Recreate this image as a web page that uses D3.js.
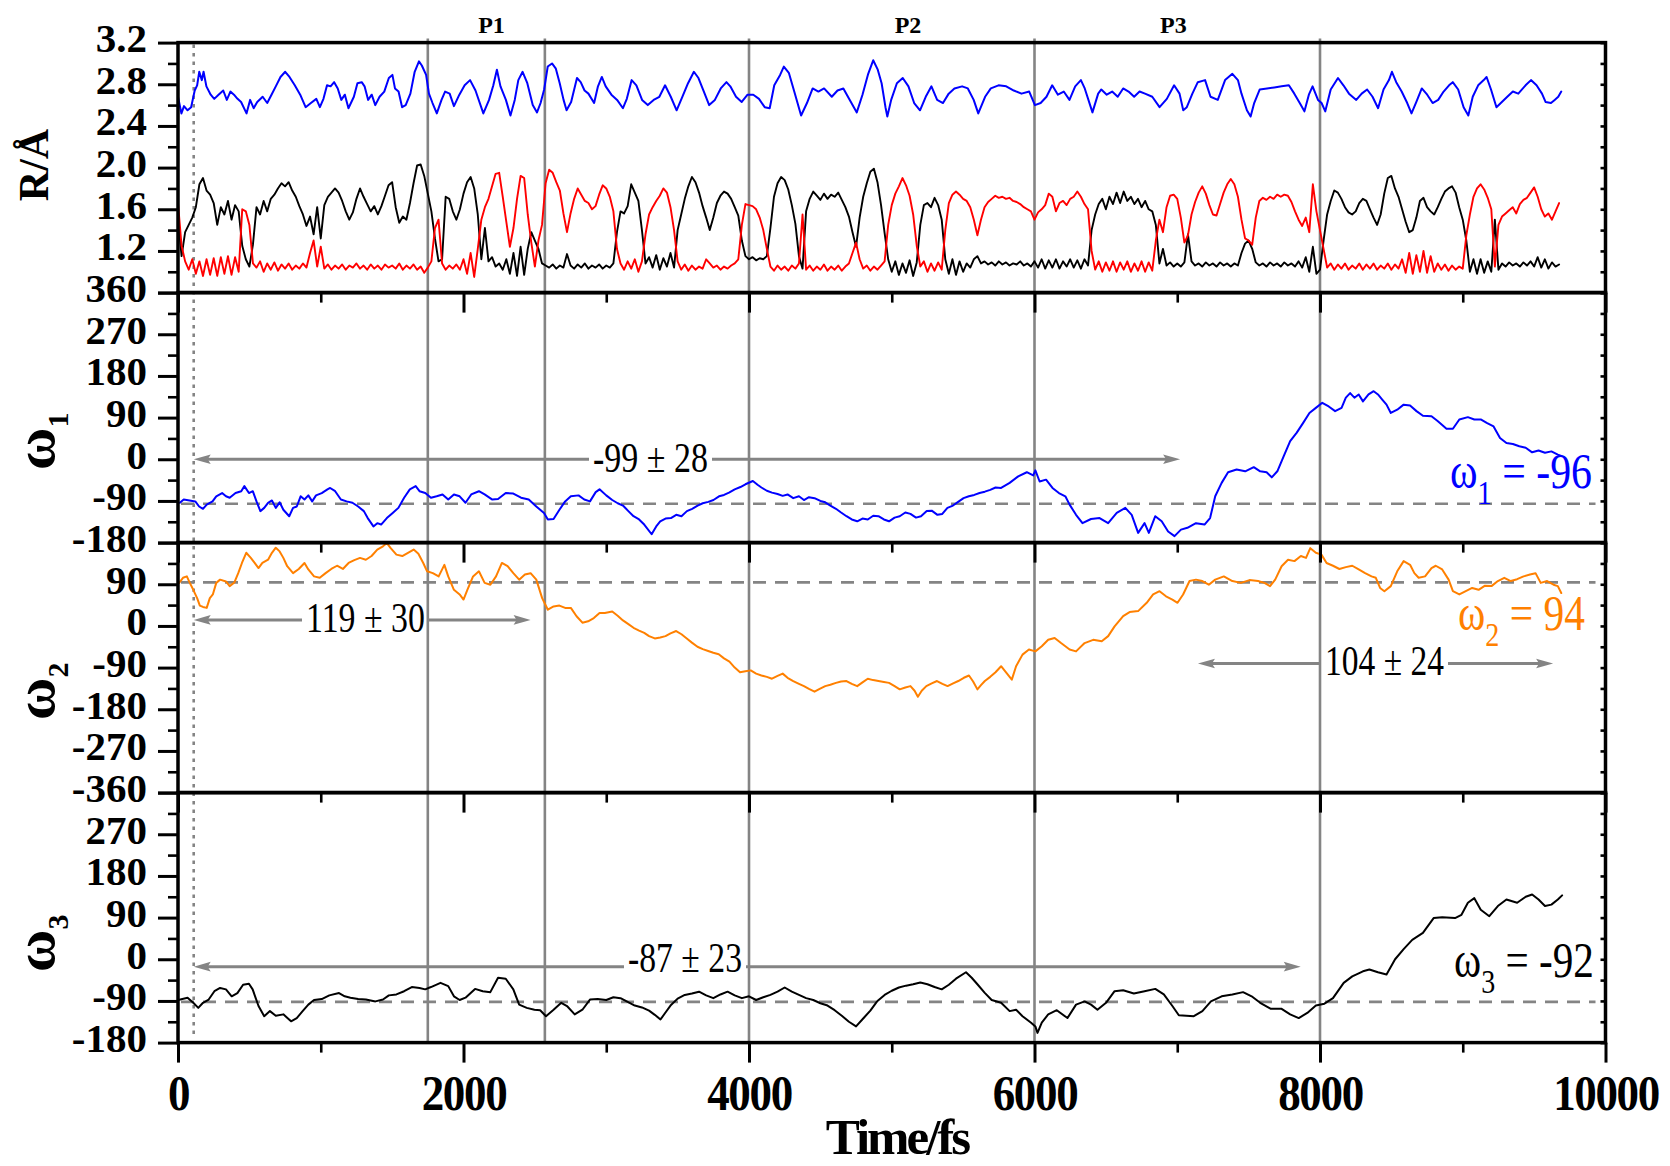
<!DOCTYPE html>
<html>
<head>
<meta charset="utf-8">
<script src="https://cdn.jsdelivr.net/npm/d3@7"></script>
<style>
  html, body { margin: 0; padding: 0; background: #fff; }
  svg { display: block; font-family: "Liberation Serif", "Times New Roman", Times, serif; }
</style>
</head>
<body>
<svg id="chart" width="1670" height="1166"></svg>
<script>
// ---------------------------------------------------------------------------
// Data
// ---------------------------------------------------------------------------
const timeDomain = [0, 10000];
const timeTicks = [0, 2000, 4000, 6000, 8000, 10000];
const timeMinorTicks = [1000, 3000, 5000, 7000, 9000];

const rDomain = [0.8, 3.2];
const rTicks = [0.8, 1.2, 1.6, 2.0, 2.4, 2.8, 3.2];
const rMinorTicks = [1.0, 1.4, 1.8, 2.2, 2.6, 3.0];

const omega1Domain = [-180, 360];
const omega1Ticks = [-180, -90, 0, 90, 180, 270, 360];
const omega1MinorTicks = [-135, -45, 45, 135, 225, 315];
const omega2Domain = [-360, 180];
const omega2Ticks = [-360, -270, -180, -90, 0, 90, 180];
const omega2MinorTicks = [-315, -225, -135, -45, 45, 135];
const omega3Domain = [-180, 360];
const omega3Ticks = [-180, -90, 0, 90, 180, 270, 360];
const omega3MinorTicks = [-135, -45, 45, 135, 225, 315];

// time (fs) of the marked frames and of the start of the averaging window
const markerTimes = [1750, 2570, 4000, 6000, 8000];
const startTime = 110;
const periodNames = ["P1", "P2", "P3"];
const periodTimes = [2196, 5114, 6973];

// reference dihedral angles (degrees)
const omegaRefs = [-96, 94, -92];

// averages over a window: [label, level (deg), from (fs), to (fs)]
const meanOmega1 = ["-99 ± 28", 0, 110, 7020];
const meanOmega2a = ["119 ± 30", 13, 110, 2470];
const meanOmega2b = ["104 ± 24", -81, 7145, 9633];
const meanOmega3 = ["-87 ± 23", -16, 110, 7865];

// distance traces sampled every rStep fs
const rStep = 25;
const rBlack = [
  1.50,1.15,1.38,1.45,1.52,1.62,1.84,1.90, 1.78,1.74,1.66,1.45,1.62,1.55,1.68,1.50,
  1.64,1.58,1.25,1.12,1.05,1.26,1.62,1.55, 1.68,1.58,1.70,1.74,1.80,1.85,1.82,1.86,
  1.78,1.72,1.63,1.55,1.44,1.53,1.36,1.62, 1.32,1.64,1.72,1.76,1.80,1.76,1.68,1.58,
  1.50,1.57,1.70,1.80,1.72,1.65,1.58,1.63, 1.55,1.63,1.73,1.83,1.86,1.62,1.47,1.53,
  1.50,1.66,1.85,2.02,2.03,1.92,1.75,1.58, 1.32,1.10,1.12,1.72,1.70,1.58,1.50,1.60,
  1.75,1.86,1.91,1.80,1.55,1.12,1.42,1.10, 1.14,1.05,1.08,1.02,1.12,0.98,1.18,0.96,
  1.24,0.97,1.22,1.38,1.30,1.22,1.08,1.06, 1.04,1.07,1.03,1.06,1.04,1.17,1.06,1.03,
  1.07,1.04,1.08,1.03,1.06,1.04,1.07,1.03, 1.06,1.04,1.08,1.38,1.58,1.56,1.63,1.84,
  1.76,1.68,1.40,1.08,1.14,1.04,1.16,1.02, 1.13,1.05,1.18,1.04,1.40,1.55,1.70,1.82,
  1.91,1.86,1.76,1.63,1.52,1.40,1.52,1.66, 1.73,1.77,1.75,1.70,1.62,1.54,1.30,1.15,
  1.12,1.14,1.11,1.13,1.12,1.15,1.42,1.72, 1.85,1.91,1.88,1.79,1.64,1.46,1.15,1.03,
  1.58,1.70,1.77,1.73,1.69,1.75,1.70,1.74, 1.72,1.76,1.69,1.62,1.53,1.38,1.24,1.52,
  1.72,1.85,1.96,1.99,1.86,1.64,1.37,1.12, 1.00,1.10,0.97,1.08,0.99,1.11,0.96,1.09,
  1.45,1.64,1.66,1.62,1.71,1.64,1.50,1.12, 0.98,1.12,0.97,1.10,1.00,1.08,1.04,1.12,
  1.15,1.08,1.10,1.07,1.09,1.06,1.10,1.07, 1.09,1.06,1.08,1.07,1.10,1.06,1.08,1.05,
  1.10,1.04,1.12,1.03,1.11,1.04,1.12,1.03, 1.10,1.05,1.12,1.04,1.11,1.03,1.12,1.06,
  1.40,1.55,1.65,1.70,1.60,1.72,1.65,1.76, 1.66,1.77,1.68,1.72,1.65,1.70,1.62,1.68,
  1.60,1.58,1.45,1.08,1.22,1.06,1.09,1.05, 1.08,1.05,1.09,1.36,1.10,1.06,1.08,1.05,
  1.09,1.06,1.08,1.05,1.09,1.06,1.08,1.05, 1.08,1.06,1.18,1.27,1.30,1.22,1.09,1.06,
  1.08,1.05,1.09,1.06,1.08,1.05,1.09,1.06, 1.08,1.05,1.10,1.04,1.14,1.00,1.24,0.98,
  1.02,1.30,1.55,1.68,1.78,1.76,1.70,1.62, 1.57,1.55,1.58,1.66,1.70,1.68,1.60,1.52,
  1.45,1.55,1.75,1.90,1.92,1.80,1.72,1.60, 1.48,1.38,1.40,1.52,1.68,1.71,1.62,1.58,
  1.55,1.62,1.70,1.77,1.80,1.82,1.76,1.62, 1.50,1.30,1.00,1.12,0.98,1.12,0.99,1.10,
  1.00,1.50,1.02,1.08,1.05,1.09,1.06,1.08, 1.05,1.09,1.06,1.10,1.05,1.14,1.04,1.12,
  1.03,1.09,1.05,1.07
];
const rRed = [
  1.66,1.25,1.10,1.02,1.12,0.98,1.10,0.96, 1.12,0.97,1.13,0.96,1.14,0.98,1.15,0.97,
  1.14,1.00,1.60,1.58,1.45,1.08,1.04,1.10, 1.00,1.08,1.02,1.09,1.01,1.07,1.03,1.08,
  1.02,1.06,1.03,1.08,1.04,1.18,1.30,1.05, 1.24,1.03,1.07,1.02,1.06,1.03,1.07,1.02,
  1.06,1.04,1.08,1.03,1.06,1.02,1.07,1.03, 1.06,1.02,1.07,1.04,1.06,1.03,1.08,1.02,
  1.06,1.03,1.07,1.02,1.05,0.99,1.04,1.10, 1.42,1.50,1.08,1.02,1.06,1.03,1.07,1.02,
  1.12,0.98,1.18,0.95,1.22,1.50,1.62,1.70, 1.82,1.94,1.95,1.72,1.48,1.24,1.42,1.70,
  1.92,1.90,1.55,1.28,1.05,1.30,1.45,1.85, 1.98,1.95,1.86,1.78,1.56,1.38,1.56,1.70,
  1.80,1.74,1.68,1.66,1.60,1.63,1.74,1.83, 1.80,1.72,1.58,1.22,1.08,1.02,1.10,1.03,
  1.12,1.00,1.10,1.36,1.55,1.62,1.68,1.73, 1.80,1.76,1.62,1.40,1.10,1.02,1.07,1.01,
  1.06,1.02,1.05,1.03,1.12,1.08,1.04,1.06, 1.02,1.05,1.03,1.06,1.08,1.12,1.45,1.65,
  1.64,1.63,1.60,1.52,1.40,1.22,1.05,1.01, 1.06,1.02,1.05,1.01,1.06,1.03,1.08,1.55,
  1.02,1.06,1.01,1.05,1.02,1.07,1.01,1.05, 1.02,1.06,1.01,1.05,1.08,1.18,1.28,1.12,
  1.03,1.06,1.01,1.05,1.02,1.06,1.10,1.45, 1.64,1.75,1.82,1.90,1.83,1.73,1.55,1.25,
  1.05,1.10,1.00,1.08,1.01,1.09,1.02,1.40, 1.66,1.74,1.77,1.74,1.70,1.68,1.62,1.50,
  1.35,1.50,1.62,1.67,1.70,1.73,1.71,1.72, 1.70,1.71,1.68,1.67,1.65,1.62,1.60,1.58,
  1.50,1.57,1.60,1.64,1.75,1.72,1.58,1.66, 1.68,1.64,1.70,1.72,1.77,1.72,1.65,1.60,
  1.20,1.02,1.10,1.00,1.09,1.01,1.10,1.00, 1.09,1.02,1.10,1.00,1.08,1.01,1.10,1.00,
  1.09,1.01,1.30,1.50,1.38,1.62,1.73,1.74, 1.70,1.52,1.28,1.35,1.55,1.67,1.76,1.82,
  1.75,1.64,1.55,1.54,1.65,1.76,1.84,1.89, 1.84,1.72,1.50,1.32,1.30,1.26,1.52,1.68,
  1.71,1.69,1.72,1.70,1.74,1.72,1.74,1.73, 1.67,1.58,1.50,1.44,1.52,1.38,1.84,1.58,
  1.40,1.22,1.04,1.08,1.02,1.07,1.03,1.08, 1.02,1.06,1.03,1.08,1.02,1.07,1.03,1.08,
  1.02,1.06,1.03,1.08,1.02,1.07,1.03,1.12, 0.99,1.18,0.98,1.16,1.00,1.20,0.99,1.15,
  1.00,1.08,1.02,1.07,1.01,1.06,1.02,1.05, 1.03,1.35,1.55,1.72,1.80,1.84,1.79,1.71,
  1.60,1.05,1.45,1.53,1.56,1.59,1.62,1.56, 1.65,1.69,1.71,1.76,1.81,1.72,1.60,1.53,
  1.56,1.50,1.58,1.66
];
// [time fs, R Å]
const rBlue = [
  [0,2.68],[24,2.52],[42,2.59],[67,2.55],[92,2.58],[117,2.74],[134,2.79],[149,2.92],[167,2.84],[179,2.92],
  [199,2.78],[229,2.70],[254,2.66],[284,2.70],[317,2.74],[342,2.65],[367,2.73],[392,2.70],[417,2.66],[442,2.63],
  [480,2.52],[505,2.65],[530,2.57],[555,2.63],[593,2.68],[625,2.62],[655,2.70],[685,2.78],[718,2.87],[751,2.92],
  [781,2.87],[818,2.79],[856,2.70],[894,2.58],[931,2.62],[969,2.66],[994,2.58],[1019,2.66],[1044,2.79],[1069,2.78],
  [1094,2.82],[1119,2.76],[1144,2.65],[1169,2.70],[1194,2.57],[1232,2.68],[1257,2.81],[1287,2.82],[1307,2.78],[1332,2.65],
  [1357,2.70],[1382,2.60],[1412,2.68],[1445,2.73],[1477,2.86],[1502,2.89],[1520,2.76],[1545,2.73],[1570,2.58],[1595,2.60],
  [1628,2.71],[1658,2.92],[1688,3.02],[1708,2.98],[1738,2.89],[1758,2.71],[1783,2.62],[1813,2.52],[1846,2.65],[1871,2.73],
  [1903,2.71],[1933,2.59],[1971,2.70],[2008,2.79],[2046,2.84],[2084,2.74],[2139,2.52],[2179,2.65],[2209,2.79],[2234,2.94],
  [2259,2.78],[2297,2.65],[2329,2.50],[2359,2.65],[2384,2.84],[2414,2.92],[2447,2.81],[2485,2.60],[2515,2.53],[2540,2.62],
  [2565,2.75],[2590,2.97],[2620,3.00],[2647,2.95],[2674,2.81],[2701,2.65],[2722,2.55],[2754,2.63],[2795,2.86],[2821,2.82],
  [2848,2.74],[2875,2.71],[2915,2.62],[2942,2.78],[2969,2.87],[2996,2.78],[3036,2.70],[3076,2.65],[3117,2.57],[3144,2.66],
  [3178,2.84],[3211,2.79],[3251,2.65],[3291,2.60],[3332,2.65],[3372,2.68],[3412,2.79],[3452,2.68],[3493,2.55],[3533,2.68],
  [3573,2.81],[3614,2.92],[3646,2.86],[3681,2.74],[3721,2.60],[3761,2.65],[3802,2.76],[3842,2.82],[3869,2.78],[3909,2.68],
  [3949,2.63],[3990,2.70],[4030,2.70],[4070,2.66],[4110,2.58],[4145,2.57],[4177,2.79],[4218,2.89],[4244,2.97],[4279,2.91],
  [4317,2.73],[4365,2.50],[4406,2.62],[4446,2.76],[4486,2.73],[4526,2.76],[4580,2.68],[4620,2.74],[4661,2.76],[4701,2.66],
  [4755,2.53],[4795,2.70],[4835,2.90],[4870,3.03],[4902,2.94],[4929,2.81],[4956,2.58],[4969,2.49],[4996,2.65],[5036,2.81],
  [5077,2.86],[5117,2.78],[5157,2.62],[5198,2.55],[5238,2.68],[5278,2.78],[5318,2.65],[5359,2.62],[5399,2.71],[5439,2.76],
  [5493,2.78],[5533,2.76],[5574,2.65],[5606,2.52],[5654,2.68],[5694,2.76],[5748,2.79],[5802,2.78],[5855,2.74],[5909,2.71],
  [5963,2.73],[6003,2.60],[6043,2.62],[6084,2.68],[6124,2.79],[6164,2.70],[6205,2.73],[6245,2.65],[6285,2.78],[6325,2.84],
  [6352,2.76],[6406,2.53],[6446,2.71],[6468,2.75],[6506,2.70],[6544,2.73],[6583,2.68],[6621,2.76],[6659,2.73],[6698,2.68],
  [6736,2.73],[6774,2.71],[6825,2.68],[6876,2.58],[6927,2.66],[6978,2.79],[7016,2.71],[7042,2.55],[7067,2.58],[7106,2.71],
  [7144,2.82],[7195,2.84],[7233,2.68],[7284,2.65],[7335,2.84],[7386,2.90],[7425,2.84],[7450,2.71],[7488,2.55],[7514,2.49],
  [7539,2.62],[7578,2.75],[7629,2.76],[7680,2.77],[7731,2.78],[7782,2.79],[7820,2.71],[7858,2.62],[7891,2.54],[7922,2.70],
  [7948,2.78],[7986,2.65],[8011,2.62],[8037,2.54],[8075,2.75],[8126,2.86],[8164,2.79],[8203,2.71],[8254,2.65],[8292,2.71],
  [8330,2.75],[8368,2.68],[8407,2.57],[8445,2.75],[8483,2.84],[8504,2.92],[8534,2.82],[8572,2.73],[8611,2.62],[8641,2.52],
  [8675,2.63],[8713,2.76],[8751,2.70],[8789,2.62],[8828,2.65],[8866,2.73],[8904,2.79],[8930,2.82],[8968,2.75],[9006,2.58],
  [9039,2.50],[9070,2.68],[9108,2.79],[9147,2.84],[9167,2.87],[9198,2.75],[9236,2.58],[9274,2.63],[9312,2.68],[9351,2.73],
  [9389,2.71],[9440,2.79],[9478,2.84],[9517,2.79],[9555,2.71],[9580,2.63],[9618,2.62],[9644,2.65],[9669,2.68],[9690,2.73]
];
// [time fs, angle deg]
const omega1 = [
  [13,-94],[40,-87],[81,-89],[121,-91],[148,-102],[175,-107],[201,-98],[242,-91],[268,-80],[309,-73],
  [336,-80],[362,-83],[403,-73],[443,-69],[465,-58],[497,-73],[524,-69],[550,-91],[577,-112],[604,-105],
  [631,-94],[658,-89],[685,-105],[712,-93],[738,-109],[779,-123],[806,-105],[832,-102],[859,-80],[886,-87],
  [913,-78],[940,-91],[967,-78],[1007,-73],[1047,-65],[1066,-62],[1101,-69],[1141,-87],[1181,-91],[1222,-94],
  [1262,-102],[1302,-112],[1329,-127],[1369,-145],[1396,-138],[1423,-141],[1463,-127],[1504,-116],[1544,-105],[1584,-83],
  [1624,-65],[1665,-58],[1692,-69],[1732,-73],[1772,-83],[1812,-80],[1853,-76],[1893,-87],[1933,-76],[1973,-80],
  [2014,-94],[2054,-76],[2108,-69],[2148,-76],[2202,-87],[2242,-86],[2296,-73],[2349,-74],[2403,-83],[2457,-87],
  [2510,-102],[2564,-116],[2591,-130],[2631,-129],[2672,-109],[2712,-91],[2752,-80],[2806,-78],[2846,-87],[2886,-91],
  [2926,-71],[2953,-65],[3000,-78],[3042,-88],[3080,-95],[3117,-100],[3155,-112],[3191,-123],[3230,-130],[3266,-141],
  [3318,-162],[3350,-145],[3378,-134],[3415,-128],[3453,-127],[3490,-120],[3527,-123],[3565,-112],[3602,-107],[3640,-100],
  [3676,-95],[3715,-92],[3751,-88],[3790,-80],[3825,-77],[3860,-72],[3900,-65],[3940,-60],[3975,-54],[4027,-47],
  [4060,-55],[4087,-61],[4125,-68],[4161,-72],[4200,-75],[4236,-79],[4270,-76],[4310,-84],[4350,-80],[4385,-88],
  [4420,-82],[4459,-84],[4500,-90],[4534,-93],[4570,-100],[4609,-107],[4645,-115],[4683,-123],[4720,-130],[4758,-134],
  [4795,-128],[4832,-130],[4870,-122],[4907,-123],[4945,-130],[4981,-134],[5020,-126],[5056,-123],[5095,-115],[5131,-118],
  [5170,-126],[5205,-123],[5245,-112],[5280,-111],[5320,-120],[5354,-118],[5390,-105],[5429,-100],[5465,-92],[5503,-84],
  [5540,-80],[5578,-77],[5615,-73],[5652,-70],[5690,-66],[5727,-61],[5766,-62],[5826,-51],[5886,-37],[5946,-28],
  [5991,-35],[6006,-24],[6036,-48],[6081,-44],[6126,-62],[6171,-73],[6216,-80],[6246,-98],[6291,-120],[6336,-138],
  [6396,-129],[6456,-127],[6516,-138],[6576,-116],[6636,-105],[6681,-120],[6726,-159],[6771,-138],[6801,-159],[6846,-123],
  [6891,-134],[6936,-156],[6981,-166],[7026,-152],[7071,-148],[7131,-138],[7191,-141],[7230,-127],[7266,-80],[7311,-51],
  [7356,-28],[7416,-22],[7476,-26],[7536,-17],[7581,-26],[7626,-28],[7662,-39],[7701,-26],[7746,7],[7791,39],
  [7836,57],[7881,78],[7926,100],[7971,111],[8016,122],[8061,114],[8106,104],[8151,111],[8181,133],[8211,143],
  [8241,133],[8271,140],[8301,125],[8340,140],[8376,147],[8406,140],[8436,129],[8466,118],[8496,100],[8541,107],
  [8586,118],[8631,116],[8676,104],[8721,94],[8781,93],[8826,82],[8886,66],[8931,66],[8976,86],[9036,91],
  [9081,86],[9126,86],[9171,78],[9216,71],[9261,46],[9306,35],[9351,33],[9396,28],[9441,25],[9486,15],
  [9531,19],[9576,14],[9621,17],[9666,10],[9690,7]
];
const omega2 = [
  [8,93],[35,104],[62,107],[81,94],[107,78],[134,60],[153,44],[175,41],[201,39],[223,60],
  [244,68],[268,93],[295,100],[336,96],[362,86],[395,94],[422,114],[448,136],[478,158],[510,147],
  [537,136],[564,125],[591,136],[631,143],[658,158],[685,169],[712,161],[738,147],[765,129],[806,114],
  [846,123],[886,136],[913,122],[953,107],[993,104],[1034,114],[1074,123],[1114,130],[1155,123],[1195,136],
  [1235,142],[1275,147],[1316,143],[1356,151],[1396,165],[1436,172],[1463,179],[1490,168],[1530,154],[1571,151],
  [1611,158],[1651,165],[1684,156],[1718,136],[1745,118],[1785,114],[1826,107],[1866,132],[1893,107],[1933,78],
  [1973,68],[2000,57],[2027,78],[2067,107],[2108,118],[2148,93],[2188,89],[2228,107],[2269,136],[2309,129],
  [2349,114],[2390,100],[2430,111],[2470,114],[2510,100],[2551,60],[2591,35],[2631,42],[2672,44],[2712,39],
  [2752,39],[2792,21],[2833,7],[2873,10],[2913,17],[2953,28],[2990,28],[3042,31],[3080,22],[3117,12],
  [3155,4],[3191,-4],[3230,-10],[3266,-15],[3300,-22],[3340,-27],[3378,-25],[3415,-22],[3450,-16],[3490,-11],
  [3527,-18],[3564,-27],[3600,-36],[3639,-45],[3676,-50],[3714,-54],[3750,-58],[3788,-61],[3825,-70],[3863,-77],
  [3900,-90],[3937,-100],[3975,-98],[4012,-96],[4050,-103],[4087,-107],[4125,-110],[4161,-114],[4200,-108],[4236,-103],
  [4270,-112],[4310,-119],[4350,-125],[4385,-130],[4420,-136],[4459,-142],[4495,-136],[4534,-130],[4570,-127],[4609,-123],
  [4645,-120],[4683,-119],[4720,-125],[4758,-130],[4795,-122],[4832,-114],[4870,-117],[4907,-119],[4945,-121],[4981,-123],
  [5020,-130],[5056,-137],[5095,-133],[5131,-130],[5160,-140],[5183,-153],[5210,-140],[5242,-130],[5280,-124],[5317,-119],
  [5355,-125],[5391,-130],[5430,-124],[5466,-119],[5505,-112],[5541,-107],[5570,-120],[5600,-137],[5625,-128],[5652,-119],
  [5690,-110],[5727,-100],[5766,-87],[5802,-101],[5841,-116],[5871,-87],[5916,-62],[5961,-51],[6006,-55],[6051,-44],
  [6096,-30],[6141,-26],[6186,-37],[6246,-51],[6291,-55],[6351,-37],[6411,-30],[6471,-33],[6516,-22],[6561,-1],
  [6621,21],[6666,30],[6726,32],[6786,50],[6831,68],[6876,75],[6921,64],[6966,57],[7002,50],[7041,68],
  [7086,97],[7131,100],[7176,97],[7221,89],[7266,100],[7326,107],[7386,97],[7446,93],[7506,99],[7566,97],
  [7611,93],[7650,86],[7686,100],[7731,129],[7776,143],[7821,140],[7866,151],[7902,147],[7932,168],[7971,158],
  [8010,154],[8046,136],[8091,130],[8136,123],[8181,127],[8226,130],[8271,122],[8316,114],[8361,107],[8391,104],
  [8421,82],[8451,75],[8496,86],[8541,118],[8586,140],[8631,132],[8661,114],[8691,104],[8736,107],[8781,125],
  [8811,130],[8856,122],[8901,100],[8931,75],[8976,68],[9021,75],[9066,82],[9111,78],[9156,87],[9201,86],
  [9246,97],[9291,104],[9336,97],[9381,101],[9426,107],[9471,111],[9510,114],[9546,93],[9591,97],[9636,89],
  [9666,86],[9690,71]
];
const omega3 = [
  [0,-88],[67,-83],[107,-94],[142,-105],[175,-94],[215,-87],[255,-69],[295,-62],[336,-65],[376,-80],
  [416,-73],[456,-55],[497,-53],[523,-65],[564,-101],[604,-123],[644,-112],[685,-122],[738,-119],[792,-134],
  [832,-127],[873,-112],[913,-98],[953,-88],[1007,-86],[1060,-78],[1128,-73],[1168,-80],[1208,-83],[1262,-86],
  [1316,-87],[1383,-91],[1436,-87],[1477,-78],[1530,-76],[1584,-69],[1638,-60],[1692,-62],[1732,-65],[1772,-60],
  [1839,-51],[1893,-58],[1933,-80],[1973,-88],[2014,-83],[2081,-64],[2135,-69],[2188,-71],[2242,-40],[2296,-42],
  [2349,-65],[2390,-98],[2443,-105],[2497,-109],[2537,-110],[2578,-123],[2631,-109],[2685,-94],[2725,-101],[2779,-119],
  [2833,-109],[2886,-87],[2940,-86],[3000,-88],[3050,-82],[3100,-84],[3150,-92],[3200,-100],[3250,-104],[3300,-111],
  [3340,-120],[3380,-130],[3415,-115],[3450,-100],[3500,-85],[3550,-77],[3600,-74],[3650,-70],[3700,-78],[3750,-84],
  [3800,-76],[3850,-70],[3900,-78],[3950,-84],[4000,-80],[4050,-88],[4100,-82],[4150,-77],[4200,-70],[4250,-61],
  [4300,-70],[4350,-77],[4400,-84],[4450,-88],[4500,-95],[4550,-100],[4600,-110],[4650,-122],[4700,-135],[4750,-145],
  [4800,-128],[4850,-111],[4900,-90],[4950,-77],[5000,-68],[5050,-61],[5100,-57],[5150,-54],[5200,-50],[5250,-54],
  [5300,-60],[5350,-65],[5400,-55],[5450,-42],[5520,-28],[5560,-40],[5600,-54],[5650,-72],[5700,-88],[5766,-94],
  [5826,-112],[5871,-109],[5916,-123],[5976,-137],[6006,-145],[6021,-159],[6051,-137],[6096,-119],[6156,-110],[6231,-127],
  [6291,-98],[6351,-91],[6396,-98],[6441,-109],[6501,-94],[6561,-69],[6621,-67],[6696,-74],[6771,-69],[6846,-64],
  [6906,-76],[6966,-101],[7011,-121],[7116,-123],[7176,-112],[7236,-91],[7311,-80],[7386,-76],[7461,-71],[7521,-80],
  [7581,-94],[7656,-107],[7731,-107],[7791,-119],[7851,-127],[7911,-116],[7971,-100],[8031,-96],[8091,-84],[8166,-51],
  [8226,-37],[8301,-26],[8346,-22],[8406,-28],[8466,-33],[8526,0],[8586,22],[8646,42],[8721,57],[8796,89],
  [8856,91],[8946,89],[8991,96],[9036,122],[9081,132],[9126,107],[9186,93],[9246,115],[9306,129],[9381,122],
  [9441,135],[9486,140],[9531,129],[9576,115],[9621,118],[9666,129],[9696,138]
];

// ---------------------------------------------------------------------------
// Layout and style
// ---------------------------------------------------------------------------
const plotLeft = 178, plotRight = 1605.5, panelHeight = 250;
const panelTops = [42.6, 292.6, 542.6, 792.6];
const plotBottom = panelTops[3] + panelHeight;
const GRAY = "#848484";
const BOLD = "bold";
const tickFont = 41;

const svg = d3.select("#chart");
const x = d3.scaleLinear().domain(timeDomain).range([plotLeft, plotRight]);

const asText = d => String(d);
const panels = [
  { domain: rDomain, major: rTicks, minor: rMinorTicks, hidden: [0.8], fmt: d3.format(".1f") },
  { domain: omega1Domain, major: omega1Ticks, minor: omega1MinorTicks, hidden: [], fmt: asText },
  { domain: omega2Domain, major: omega2Ticks, minor: omega2MinorTicks, hidden: [180], fmt: asText },
  { domain: omega3Domain, major: omega3Ticks, minor: omega3MinorTicks, hidden: [360], fmt: asText }
];
panels.forEach((p, i) => {
  p.top = panelTops[i];
  p.y = d3.scaleLinear().domain(p.domain).range([p.top + panelHeight, p.top]);
});

// clip regions
const defs = svg.append("defs");
panels.forEach((p, i) => {
  defs.append("clipPath").attr("id", "clip" + i)
    .append("rect").attr("x", plotLeft).attr("y", p.top)
    .attr("width", plotRight - plotLeft).attr("height", panelHeight);
});

const lineOf = (y) => d3.line().x(d => x(d[0])).y(d => y(d[1]));
const sampled = (vals, step) => vals.map((v, i) => [i * step, v]);

// ---------------------------------------------------------------------------
// Reference (dashed) lines
// ---------------------------------------------------------------------------
const refLayer = svg.append("g");
omegaRefs.forEach((ref, k) => {
  const y = panels[k + 1].y(ref);
  refLayer.append("line")
    .attr("x1", plotLeft + 3).attr("x2", plotRight - 10)
    .attr("y1", y).attr("y2", y)
    .attr("stroke", GRAY).attr("stroke-width", 2.6).attr("stroke-dasharray", "13,9");
});

// ---------------------------------------------------------------------------
// Averaging arrows with their labels
// ---------------------------------------------------------------------------
const meanArrows = [
  { m: meanOmega1, panel: 1 },
  { m: meanOmega2a, panel: 2 },
  { m: meanOmega2b, panel: 2 },
  { m: meanOmega3, panel: 3 }
];
// label boxes: left edge, width and baseline in px
const meanLabelBoxes = [
  { left: 593, w: 115, base: 472 },
  { left: 306, w: 119, base: 631.5 },
  { left: 1325, w: 119, base: 675 },
  { left: 628, w: 114, base: 972 }
];
const arrowLayer = svg.append("g");
function arrowHead(g, xt, y, dir) {
  const L = 17, hw = 4.8;
  g.append("path")
    .attr("d", `M${xt},${y}L${xt - dir * L},${y - hw}L${xt - dir * (L - 3)},${y}L${xt - dir * L},${y + hw}Z`)
    .attr("fill", GRAY);
}
function fitText(sel, left, width, baseline) {
  const bb = sel.node().getBBox();
  const s = width / bb.width;
  sel.attr("transform", `translate(${left - bb.x * s},${baseline}) scale(${s},1)`);
}
meanArrows.forEach((a, k) => {
  const [label, level, from, to] = a.m;
  const y = panels[a.panel].y(level);
  const x1 = x(from), x2 = x(to);
  arrowLayer.append("line")
    .attr("x1", x1 + 10).attr("x2", x2 - 10).attr("y1", y).attr("y2", y)
    .attr("stroke", GRAY).attr("stroke-width", 3);
  arrowHead(arrowLayer, x1, y, -1);
  arrowHead(arrowLayer, x2, y, 1);
  const box = meanLabelBoxes[k];
  arrowLayer.append("rect")
    .attr("x", box.left - 4).attr("y", box.base - 31)
    .attr("width", box.w + 8).attr("height", 35).attr("fill", "#fff");
  const t = arrowLayer.append("text")
    .attr("x", 0).attr("y", 0)
    .style("font-size", "42px").attr("fill", "#000")
    .text(label);
  fitText(t, box.left, box.w, box.base);
});

// ---------------------------------------------------------------------------
// Vertical markers
// ---------------------------------------------------------------------------
const markLayer = svg.append("g");
markLayer.append("line")
  .attr("x1", x(startTime)).attr("x2", x(startTime))
  .attr("y1", panelTops[0] + 2).attr("y2", plotBottom - 4)
  .attr("stroke", GRAY).attr("stroke-width", 2.6).attr("stroke-dasharray", "3.5,5");
markLayer.selectAll("line.marker").data(markerTimes).join("line")
  .attr("class", "marker")
  .attr("x1", d => x(d)).attr("x2", d => x(d))
  .attr("y1", panelTops[0] - 4).attr("y2", plotBottom + 1)
  .attr("stroke", GRAY).attr("stroke-width", 2.6);

// ---------------------------------------------------------------------------
// Traces
// ---------------------------------------------------------------------------
const traceLayer = svg.append("g").attr("fill", "none")
  .attr("stroke-linejoin", "round").attr("stroke-linecap", "round");
const rLine = lineOf(panels[0].y);
traceLayer.append("path").attr("clip-path", "url(#clip0)")
  .attr("d", rLine(sampled(rBlack, rStep))).attr("stroke", "#000").attr("stroke-width", 1.9);
traceLayer.append("path").attr("clip-path", "url(#clip0)")
  .attr("d", rLine(sampled(rRed, rStep))).attr("stroke", "#ff0000").attr("stroke-width", 1.9);
traceLayer.append("path").attr("clip-path", "url(#clip0)")
  .attr("d", rLine(rBlue)).attr("stroke", "#0000ff").attr("stroke-width", 2);
traceLayer.append("path").attr("clip-path", "url(#clip1)")
  .attr("d", lineOf(panels[1].y)(omega1)).attr("stroke", "#0000ff").attr("stroke-width", 2);
traceLayer.append("path").attr("clip-path", "url(#clip2)")
  .attr("d", lineOf(panels[2].y)(omega2)).attr("stroke", "#ff8000").attr("stroke-width", 2);
traceLayer.append("path").attr("clip-path", "url(#clip3)")
  .attr("d", lineOf(panels[3].y)(omega3)).attr("stroke", "#000").attr("stroke-width", 2);

// ---------------------------------------------------------------------------
// Reference value labels
// ---------------------------------------------------------------------------
const refColors = ["#0000ff", "#ff8000", "#000"];
const refLabelBoxes = [
  { left: 1450, w: 142, base: 488 },
  { left: 1458, w: 127, base: 630 },
  { left: 1454, w: 140, base: 977 }
];
omegaRefs.forEach((ref, k) => {
  const t = svg.append("text").attr("x", 0).attr("y", 0)
    .attr("fill", refColors[k]).style("font-size", "50px");
  t.append("tspan").text("ω");
  t.append("tspan").attr("dy", 16).style("font-size", "34px").text(String(k + 1));
  t.append("tspan").attr("dy", -16).text("\u00a0=\u00a0" + ref);
  const b = refLabelBoxes[k];
  fitText(t, b.left, b.w, b.base);
});

// ---------------------------------------------------------------------------
// Axes and frames
// ---------------------------------------------------------------------------
const axisLayer = svg.append("g");
function styleAxis(g) {
  g.attr("font-family", null).attr("font-size", null);
  g.select(".domain").remove();
  g.selectAll(".tick line").attr("stroke", "#000");
}
panels.forEach((p, i) => {
  const g = axisLayer.append("g");
  // left axis: major ticks with labels
  g.append("g").attr("transform", `translate(${plotLeft},0)`)
    .call(d3.axisLeft(p.y).tickValues(p.major).tickSize(20).tickSizeOuter(0).tickPadding(11)
      .tickFormat(d => p.hidden.includes(d) ? "" : p.fmt(d)))
    .call(styleAxis)
    .call(a => a.selectAll(".tick line").attr("stroke-width", 3))
    .call(a => a.selectAll(".tick text")
      .attr("dy", 9)
      .style("font-size", tickFont + "px").style("font-weight", BOLD).attr("fill", "#000"));
  // left axis: minor ticks
  g.append("g").attr("transform", `translate(${plotLeft},0)`)
    .call(d3.axisLeft(p.y).tickValues(p.minor).tickSize(10).tickSizeOuter(0).tickFormat(""))
    .call(styleAxis)
    .call(a => a.selectAll(".tick line").attr("stroke-width", 2.6));
  // right axis: short inward ticks
  g.append("g").attr("transform", `translate(${plotRight},0)`)
    .call(d3.axisRight(p.y).tickValues(p.major.concat(p.minor)).tickSize(-5).tickSizeOuter(0).tickFormat(""))
    .call(styleAxis)
    .call(a => a.selectAll(".tick line").attr("stroke-width", 2.6));
  // bottom axis of each panel
  const by = p.top + panelHeight;
  const last = i === panels.length - 1;
  g.append("g").attr("transform", `translate(0,${by})`)
    .call(d3.axisBottom(x).tickValues(timeTicks).tickSize(20).tickSizeOuter(0)
      .tickFormat(last ? asText : ""))
    .call(styleAxis)
    .call(a => a.selectAll(".tick line").attr("stroke-width", 3))
    .call(a => a.selectAll(".tick text")
      .attr("y", 1110 - by).attr("dy", 0)
      .attr("transform", "scale(0.9,1)")
      .style("font-size", "50px").style("font-weight", BOLD)
      .style("letter-spacing", "-1.5px").attr("fill", "#000"));
  g.append("g").attr("transform", `translate(0,${by})`)
    .call(d3.axisBottom(x).tickValues(timeMinorTicks).tickSize(10).tickSizeOuter(0).tickFormat(""))
    .call(styleAxis)
    .call(a => a.selectAll(".tick line").attr("stroke-width", 2.6));
  // frame
  g.append("rect")
    .attr("x", plotLeft).attr("y", p.top)
    .attr("width", plotRight - plotLeft).attr("height", panelHeight)
    .attr("fill", "none").attr("stroke", "#000").attr("stroke-width", 3.5);
});

// ---------------------------------------------------------------------------
// Titles
// ---------------------------------------------------------------------------
svg.append("text")
  .attr("transform", "translate(48,165) rotate(-90)")
  .attr("text-anchor", "middle")
  .style("font-size", "42px").style("font-weight", BOLD)
  .text("R/Å");

const omegaTitleStarts = [470, 720, 972];
omegaTitleStarts.forEach((y0, k) => {
  const t = svg.append("text")
    .attr("transform", `translate(54,${y0}) rotate(-90)`)
    .style("font-size", "58px").style("font-weight", BOLD);
  t.append("tspan").text("ω");
  t.append("tspan").attr("dy", 14).style("font-size", "30px").text(String(k + 1));
});

svg.append("text")
  .attr("x", 897).attr("y", 1154).attr("text-anchor", "middle")
  .style("font-size", "51px").style("font-weight", BOLD).style("letter-spacing", "-3px")
  .text("Time/fs");

svg.selectAll("text.period").data(periodNames).join("text")
  .attr("class", "period")
  .attr("x", (d, i) => x(periodTimes[i])).attr("y", 33)
  .attr("text-anchor", "middle")
  .style("font-size", "24px").style("font-weight", BOLD)
  .text(d => d);
</script>
</body>
</html>
